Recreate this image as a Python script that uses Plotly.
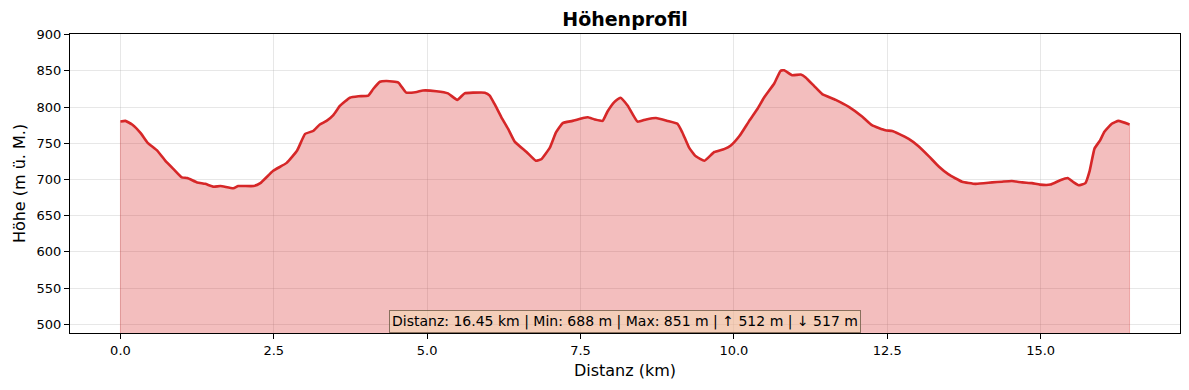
import plotly.graph_objects as go

# Distance (km) and elevation (m)
dist_km = [0.00, 0.08, 0.19, 0.33, 0.44, 0.60, 0.73, 0.87, 1.00, 1.09, 1.25, 1.38, 1.52, 1.63,
           1.84, 1.92, 2.17, 2.28, 2.49, 2.71, 2.88, 3.01, 3.14, 3.25, 3.36, 3.47, 3.58, 3.74,
           3.88, 4.04, 4.12, 4.23, 4.34, 4.53, 4.66, 4.83, 4.93, 5.15, 5.34, 5.49, 5.61, 5.75,
           5.94, 6.02, 6.10, 6.21, 6.32, 6.43, 6.62, 6.77, 6.86, 7.00, 7.10, 7.21, 7.37, 7.54,
           7.62, 7.73, 7.86, 7.94, 8.05, 8.15, 8.27, 8.43, 8.57, 8.73, 8.92, 9.08, 9.16, 9.27,
           9.38, 9.52, 9.68, 9.84, 9.95, 10.09, 10.25, 10.38, 10.49, 10.66, 10.76, 10.82, 10.95,
           11.09, 11.17, 11.31, 11.44, 11.66, 11.88, 12.09, 12.25, 12.47, 12.58, 12.69, 12.85,
           13.01, 13.18, 13.34, 13.50, 13.72, 13.94, 14.21, 14.37, 14.53, 14.70, 14.86, 14.99,
           15.16, 15.32, 15.44, 15.54, 15.62, 15.73, 15.80, 15.88, 15.97, 16.04, 16.16, 16.27,
           16.45]
elev_m = [780, 781, 776, 764, 751, 740, 726, 714, 703, 702, 696, 694, 690, 691,
          688, 691, 691, 695, 712, 723, 740, 763, 767, 776, 781, 789, 802, 813,
          815, 816, 825, 835, 836, 834, 820, 821, 823, 822, 819, 810, 819, 820,
          820, 816, 804, 786, 770, 752, 738, 726, 728, 744, 765, 778, 781, 785,
          786, 783, 781, 794, 807, 813, 802, 780, 783, 785, 781, 777, 765, 744,
          732, 726, 738, 742, 747, 760, 781, 797, 813, 833, 850, 851, 844,
          845, 841, 829, 818, 810, 800, 787, 775, 768, 767, 763, 756,
          746, 732, 718, 707, 697, 694, 696, 697, 698, 696, 695, 693,
          693, 699, 702, 696, 692, 695, 712, 743, 754, 766, 777, 781,
          776]

x_ticks = [0.0, 2.5, 5.0, 7.5, 10.0, 12.5, 15.0]
y_ticks = [500, 550, 600, 650, 700, 750, 800, 850, 900]
y_base = 488
y_top = 901
stats_text = "Distanz: 16.45 km | Min: 688 m | Max: 851 m | ↑ 512 m | ↓ 517 m"

FONT = "DejaVu Sans"

fig = go.Figure()
# filled area down to the axis bottom
fig.add_trace(go.Scatter(
    x=[dist_km[0]] + dist_km + [dist_km[-1]],
    y=[y_base] + elev_m + [y_base],
    mode="lines", fill="toself",
    fillcolor="rgba(214,39,40,0.3)",
    line=dict(color="rgba(214,39,40,0.3)", width=1),
    hoverinfo="skip", showlegend=False))
fig.add_trace(go.Scatter(
    x=dist_km, y=elev_m, mode="lines",
    line=dict(color="#d62728", width=2.6, shape="spline", smoothing=0.4),
    showlegend=False))

xmin, xmax = 0.0, 16.45
pad = (xmax - xmin) * 0.05

axis_common = dict(
    showline=True, linecolor="black", linewidth=1, mirror=True,
    ticks="outside", ticklen=5, tickwidth=1, tickcolor="black",
    showgrid=True, gridcolor="rgba(176,176,176,0.3)", gridwidth=1,
    zeroline=False,
    tickfont=dict(family=FONT, size=13, color="black"),
)

fig.update_layout(
    width=1189, height=390,
    margin=dict(l=70, r=9, t=34, b=57),
    paper_bgcolor="white", plot_bgcolor="white",
    font=dict(family=FONT, color="black"),
    title=dict(text="<b>Höhenprofil</b>", x=0.5, xref="paper",
               y=1 - 19 / 390, yref="container", yanchor="middle",
               xanchor="center", font=dict(family=FONT, size=19, color="black")),
    xaxis=dict(range=[xmin - pad, xmax + pad], tickvals=x_ticks,
               ticktext=[f"{v:.1f}" for v in x_ticks],
               title=dict(text="Distanz (km)", font=dict(family=FONT, size=16), standoff=8),
               **axis_common),
    yaxis=dict(range=[y_base, y_top], tickvals=y_ticks,
               title=dict(text="Höhe (m ü. M.)", font=dict(family=FONT, size=16), standoff=6),
               **axis_common),
    annotations=[dict(
        text=stats_text, xref="x domain", yref="y domain",
        x=0.5, y=0.037, xanchor="center", yanchor="middle", showarrow=False,
        font=dict(family=FONT, size=14, color="black"),
        bgcolor="rgba(245,222,179,0.5)", bordercolor="rgba(110,90,70,0.8)",
        borderwidth=1, borderpad=2)],
)

fig.write_html("out.html")
